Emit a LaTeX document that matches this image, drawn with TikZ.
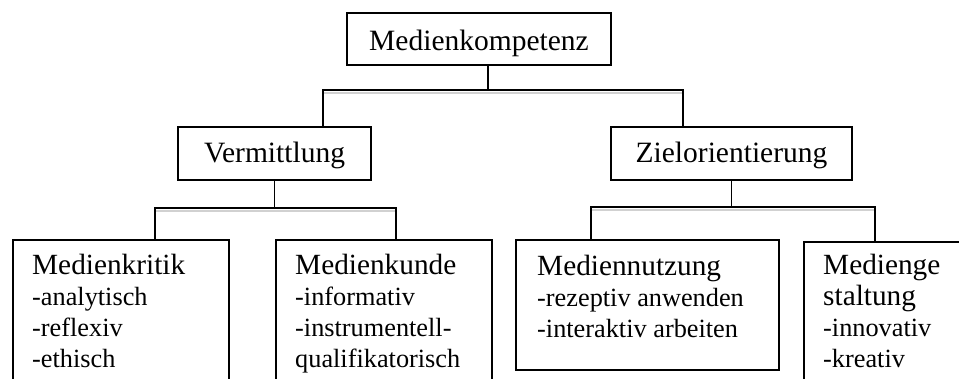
\documentclass[tikz,border=0pt]{standalone}
\usepackage{fontspec}
\setmainfont{Liberation Serif}
\newcommand{\hd}{\fontsize{29.3}{31}\selectfont}
\begin{document}
\begin{tikzpicture}[x=1pt,y=-1pt,
  frame/.style={draw=black, line width=1.8pt},
  conn/.style={draw=black, line width=1.2pt},
  shade/.style={draw=black!18, line width=1.6pt},
  headbox/.style={frame, anchor=base, inner xsep=0pt, inner ysep=6pt,
    font=\fontsize{29.5}{31}\selectfont},
  listbox/.style={frame, anchor=north west, inner sep=0pt, minimum height=200pt},
  % anchored at the baseline of the last line
  listtext/.style={anchor=base west, inner sep=0pt, align=left,
    font=\fontsize{26.3}{31}\selectfont}
]
\useasboundingbox (0,0) rectangle (959,378);
\clip (0,0) rectangle (959,378);

% upper levels
\node[headbox, minimum width=264pt, text height=31pt, text depth=9pt]
  (mk) at (479,50) {Medienkompetenz};
\node[headbox, minimum width=193pt, text height=29pt, text depth=12pt]
  (vm) at (274.5,162) {Vermittlung};
\node[headbox, minimum width=241pt, text height=29pt, text depth=12pt]
  (zo) at (731.5,162) {Zielorientierung};

% lower level frames
\node[listbox, minimum width=216pt] (kritikbox) at (12,239) {};
\node[listbox, minimum width=216pt] (kundebox) at (275,239) {};
\node[listbox, minimum width=263pt, minimum height=130pt] (nutzungbox) at (515,239) {};
\node[listbox, minimum width=200pt] (gestaltbox) at (803,241) {};

% lower level texts
\node[listtext] (kritik) at (32,367)
  {{\hd Medienkritik}\\-analytisch\\-reflexiv\\-ethisch};
\node[listtext] (kunde) at (295,367)
  {{\hd Medienkunde}\\-informativ\\-instrumentell-\\qualifikatorisch};
\node[listtext] (nutzung) at (537,337)
  {{\hd Mediennutzung}\\-rezeptiv anwenden\\-interaktiv arbeiten};
\node[listtext] (gestalt) at (823,367)
  {{\hd Medienge}\\{\hd staltung}\\-innovativ\\-kreativ};

% junction points of the bars
\coordinate (jL) at (323,90);
\coordinate (jR) at (683,90);
\coordinate (vL) at (155,208);
\coordinate (vR) at (396,208);
\coordinate (zL) at (591,207);
\coordinate (zR) at (875,207);

% faint shadow under each bar
\draw[shade] ([yshift=-3pt]jL) -- ([yshift=-3pt]jR);
\draw[shade] ([yshift=-3pt]vL) -- ([yshift=-3pt]vR);
\draw[shade] ([yshift=-3pt]zL) -- ([yshift=-3pt]zR);

% connectors
\draw[conn] ([xshift=9pt]mk.south) -- ([xshift=9pt]mk.south |- jL);
\draw[conn] (vm.north -| jL) |- (jR) -- (zo.north -| jR);

\draw[conn] (vm.south) -- (vm.south |- vL);
\draw[conn] (kritikbox.north -| vL) |- (vR) -- (kundebox.north -| vR);

\draw[conn] (zo.south) -- (zo.south |- zL);
\draw[conn] (nutzungbox.north -| zL) |- (zR) -- (gestaltbox.north -| zR);
\end{tikzpicture}
\end{document}
